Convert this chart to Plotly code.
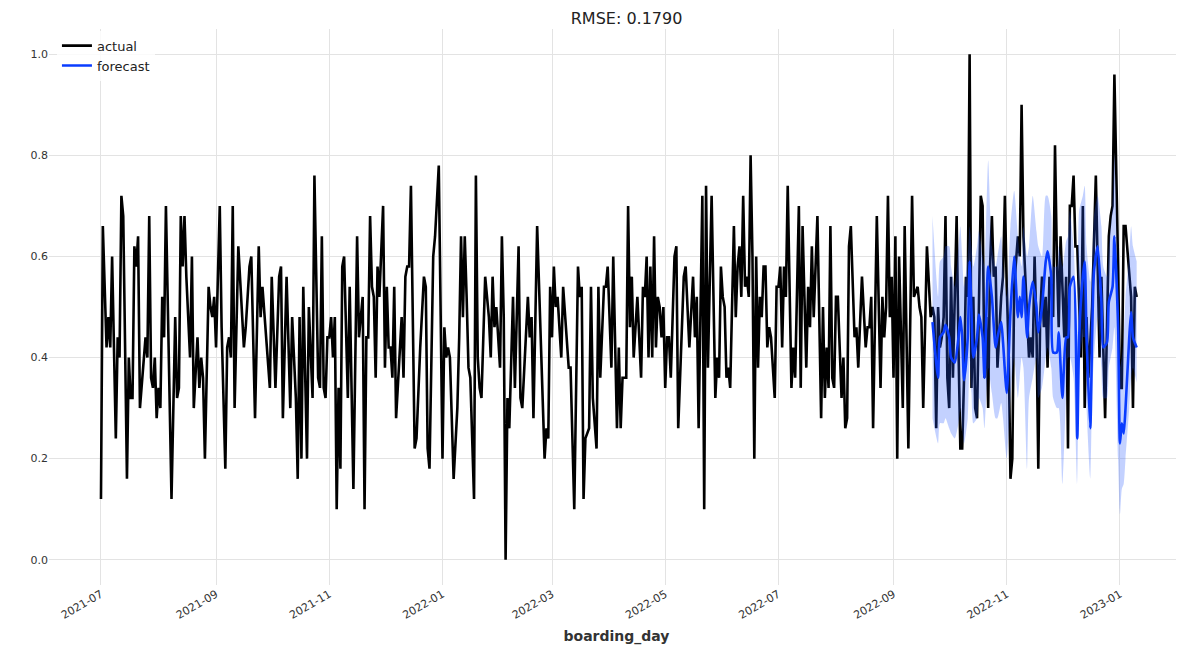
import pandas as pd
import plotly.graph_objects as go

START = "2021-07-01"

actual_day = [0,1,3,4,5,6,8,9,10,11,12,14,15,16,17,18,19,20,21,23,24,25,26,27,28,29,30,31,32,33,34,35,38,40,41,42,43,44,45,46,48,49,50,52,53,54,55,56,58,59,60,61,62,64,65,67,68,69,70,71,72,74,77,78,80,81,83,85,86,87,89,91,92,94,96,97,98,100,102,103,105,106,107,108,109,111,112,114,115,117,118,119,120,121,122,123,124,125,126,127,128,129,130,131,133,134,136,138,139,141,142,143,144,145,146,147,148,149,150,152,153,154,155,156,157,158,159,161,162,163,164,165,166,167,169,170,172,174,175,176,177,179,180,182,183,184,185,186,187,188,190,192,193,194,195,196,197,198,199,201,202,203,204,205,207,208,209,210,211,212,213,215,216,217,218,219,220,222,223,225,226,227,230,231,232,233,235,239,240,241,242,243,244,245,246,248,249,252,253,255,257,258,259,260,261,263,264,265,267,268,269,271,272,273,275,276,278,279,280,281,283,284,285,286,287,289,291,292,293,294,295,296,297,298,299,300,301,302,303,304,305,306,307,309,310,311,314,315,317,319,320,321,322,324,325,326,327,329,331,332,333,334,335,336,337,338,339,341,342,343,344,345,346,347,348,349,350,351,352,353,354,355,356,357,358,359,360,361,363,364,365,366,367,368,369,370,372,373,374,376,377,378,380,381,382,383,384,386,388,389,390,391,392,393,394,395,396,397,399,400,401,402,403,404,406,407,408,410,411,412,413,414,415,416,418,420,421,422,423,424,425,426,427,428,429,430,432,433,435,437,438,440,441,442,443,445,447,448,449,450,451,452,453,454,455,456,457,458,459,461,462,463,464,465,466,467,468,469,470,471,472,474,475,476,477,478,479,480,481,482,483,485,486,487,488,489,490,491,492,493,494,495,496,497,499,500,501,502,503,504,505,506,507,508,509,510,511,512,513,514,515,516,517,518,519,520,521,522,523,524,525,526,528,529,530,531,532,534,536,538,539,540,541,543,544,545,546,548,549,550,551,552,554,555,556,557,558]
actual_val = [.12,.66,.42,.48,.42,.60,.24,.44,.40,.72,.68,.16,.40,.32,.32,.62,.58,.64,.30,.40,.44,.40,.68,.36,.34,.40,.28,.34,.30,.52,.44,.70,.12,.48,.32,.34,.68,.58,.68,.56,.40,.60,.30,.44,.34,.40,.36,.20,.54,.50,.48,.52,.42,.70,.46,.18,.42,.44,.40,.70,.30,.62,.42,.46,.58,.60,.28,.62,.48,.54,.44,.34,.56,.34,.56,.58,.28,.56,.30,.48,.32,.16,.48,.20,.54,.20,.50,.32,.76,.36,.34,.64,.34,.32,.44,.44,.48,.40,.48,.10,.34,.18,.58,.60,.32,.54,.14,.64,.44,.52,.10,.44,.44,.68,.54,.52,.36,.58,.52,.70,.38,.54,.42,.42,.36,.54,.28,.42,.48,.36,.56,.58,.58,.74,.22,.24,.42,.56,.54,.22,.18,.60,.64,.78,.48,.20,.46,.40,.42,.40,.16,.30,.44,.64,.48,.64,.52,.38,.36,.12,.76,.40,.34,.32,.56,.52,.48,.40,.56,.46,.50,.38,.64,.48,.00,.32,.26,.52,.34,.62,.32,.30,.52,.44,.48,.28,.66,.20,.26,.24,.54,.44,.58,.50,.52,.40,.54,.38,.38,.10,.58,.52,.54,.12,.24,.26,.54,.32,.22,.54,.36,.54,.54,.58,.38,.60,.26,.42,.26,.36,.36,.70,.46,.56,.40,.52,.36,.54,.52,.60,.40,.58,.40,.64,.42,.52,.50,.44,.50,.34,.44,.44,.36,.60,.62,.26,.56,.58,.42,.56,.44,.52,.26,.72,.10,.74,.38,.72,.32,.40,.36,.58,.52,.50,.36,.38,.34,.66,.48,.58,.62,.52,.72,.54,.56,.52,.80,.60,.20,.60,.38,.52,.48,.58,.58,.42,.46,.44,.32,.54,.54,.58,.42,.58,.52,.74,.34,.42,.36,.70,.34,.66,.38,.54,.46,.62,.48,.68,.28,.50,.32,.42,.34,.66,.36,.34,.52,.52,.32,.40,.26,.28,.62,.66,.44,.46,.38,.56,.48,.42,.46,.46,.52,.26,.68,.34,.52,.44,.50,.72,.48,.56,.36,.64,.20,.60,.30,.66,.22,.72,.52,.54,.50,.48,.30,.62,.48,.50,.48,.26,.50,.42,.44,.48,.68,.36,.30,.56,.36,.68,.42,.22,.22,.36,.56,.52,1.00,.34,.52,.30,.28,.72,.70,.36,.48,.30,.58,.68,.56,.58,.38,.52,.56,.72,.54,.42,.16,.20,.54,.60,.64,.60,.90,.64,.48,.40,.44,.40,.60,.46,.18,.48,.56,.46,.52,.38,.56,.54,.48,.82,.60,.46,.64,.52,.44,.56,.22,.70,.70,.76,.62,.62,.40,.70,.30,.48,.36,.50,.76,.40,.56,.42,.28,.64,.68,.70,.96,.58,.34,.34,.66,.66,.56,.52,.30,.54,.52]

fc_day = [448,451,452,454,455,457,458,460,462,463,464,465,467,468,469,470,472,473,475,476,478,480,482,483,485,486,488,490,492,494,495,496,497,499,500,502,504,505,507,509,510,512,513,515,516,518,520,521,522,524,526,527,529,530,531,533,534,535,537,539,540,542,543,545,546,548,549,550,551,552,554,555,556,558]
fc_mid = [.47,.36,.44,.45,.465,.44,.40,.39,.44,.48,.44,.355,.44,.59,.49,.40,.44,.485,.44,.36,.58,.52,.42,.44,.47,.43,.33,.49,.60,.48,.52,.48,.56,.44,.50,.55,.50,.45,.50,.59,.61,.56,.41,.41,.45,.32,.44,.44,.54,.56,.24,.44,.56,.59,.44,.26,.44,.57,.62,.51,.42,.43,.51,.54,.64,.46,.23,.27,.25,.30,.44,.49,.44,.42]
fc_upper = [.68,.52,.59,.60,.62,.62,.58,.54,.62,.66,.60,.54,.60,.66,.62,.58,.62,.65,.60,.58,.79,.62,.58,.60,.64,.58,.52,.66,.73,.64,.60,.58,.66,.60,.62,.72,.65,.62,.60,.72,.72,.68,.58,.58,.62,.58,.63,.64,.69,.62,.45,.69,.72,.74,.62,.55,.58,.68,.72,.66,.58,.56,.62,.70,.80,.52,.38,.40,.44,.52,.60,.66,.62,.59]
fc_lower = [.28,.23,.27,.27,.28,.26,.25,.24,.27,.30,.26,.23,.28,.40,.33,.27,.28,.32,.30,.26,.38,.33,.28,.28,.31,.28,.20,.32,.40,.32,.36,.40,.38,.18,.32,.36,.40,.32,.34,.40,.42,.38,.32,.30,.30,.15,.33,.40,.40,.36,.15,.37,.44,.44,.30,.16,.32,.40,.48,.38,.32,.32,.38,.42,.46,.20,.09,.14,.15,.20,.30,.36,.38,.35]

title_text = "RMSE: 0.1790"
x_title = "boarding_day"
y_ticks = [0.0, 0.2, 0.4, 0.6, 0.8, 1.0]

t0 = pd.Timestamp(START)
act_x = t0 + pd.to_timedelta(actual_day, unit="D")
fc_x = t0 + pd.to_timedelta(fc_day, unit="D")

fig = go.Figure()
fig.add_trace(go.Scatter(x=act_x, y=actual_val, mode="lines", name="actual",
                         line=dict(color="black", width=2.6)))
fig.add_trace(go.Scatter(x=fc_x, y=fc_upper, mode="lines",
                         line=dict(width=0, color="rgba(0,0,0,0)", shape="spline", smoothing=0.6),
                         showlegend=False, hoverinfo="skip"))
fig.add_trace(go.Scatter(x=fc_x, y=fc_lower, mode="lines",
                         line=dict(width=0, color="rgba(0,0,0,0)", shape="spline", smoothing=0.6),
                         fill="tonexty", fillcolor="rgba(40,90,255,0.28)", showlegend=False, hoverinfo="skip"))
fig.add_trace(go.Scatter(x=fc_x, y=fc_mid, mode="lines", name="forecast",
                         line=dict(color="#0a3cff", width=2.6, shape="spline", smoothing=0.6)))

# page body adds an 8px offset: figure is 1176x637 so it fills the 1184x645 window
fig.update_layout(
    width=1176, height=637,
    margin=dict(l=41, r=0, t=21, b=60, autoexpand=False),
    paper_bgcolor="white", plot_bgcolor="white",
    font=dict(family="DejaVu Sans", size=11, color="#333333"),
    title=dict(text=title_text, x=0.526, xanchor="center", y=0.993, yanchor="top",
               font=dict(size=16, color="#222222"), automargin=False),
    legend=dict(x=0.007, y=0.997, xanchor="left", yanchor="top", bgcolor="rgba(255,255,255,0.8)",
                font=dict(size=13, color="#222222"), borderwidth=0, traceorder="normal"),
    showlegend=True,
)
fig.update_xaxes(
    range=[t0 - pd.Timedelta(days=28.0), t0 + pd.Timedelta(days=583.5)],
    tickmode="linear", tick0=START, dtick="M2", tickformat="%Y-%m", tickangle=-30,
    showgrid=True, gridcolor="#e3e3e3", gridwidth=1, zeroline=False, showline=False,
    ticks="", tickfont=dict(size=11, color="#333333"), automargin=False,
    title=dict(text="<b>" + x_title + "</b>", font=dict(size=14, color="#333333"), standoff=14),
)
fig.update_yaxes(
    range=[-0.05, 1.05], tickvals=y_ticks, tickformat=".1f", automargin=False,
    showgrid=True, gridcolor="#e3e3e3", gridwidth=1, zeroline=False, showline=False,
    ticks="", tickfont=dict(size=11, color="#333333"),
)

fig.write_html("out.html")
